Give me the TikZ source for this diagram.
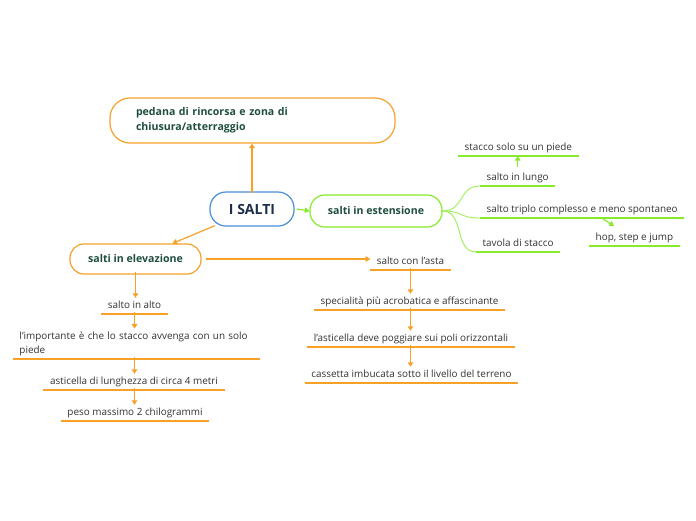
\documentclass[tikz,border=0pt]{standalone}
\usepackage{fontspec}
\setmainfont{Open Sans}
\usetikzlibrary{arrows.meta,calc}
\definecolor{ocol}{HTML}{F7A128}
\definecolor{gcol}{HTML}{86EB2B}
\definecolor{bcol}{HTML}{4A90D9}
\definecolor{dgreen}{HTML}{1F4E3D}
\definecolor{navy}{HTML}{1C2E4A}
\definecolor{tcol}{HTML}{333333}
\tikzset{
  topicbox/.style={draw, fill=white, line width=1.2pt, font=\bfseries\fontsize{10.6}{15}\selectfont, text=dgreen, inner sep=0pt},
  itembase/.style={font=\fontsize{9.9}{14}\selectfont, text=tcol, inner xsep=6.5pt, inner ysep=3pt},
  item/.style={itembase, text height=7.3pt, text depth=2.5pt},
  oline/.style={draw=ocol, line width=1.8pt},
  gline/.style={draw=gcol, line width=1.8pt},
  oarr/.style={draw=ocol, line width=1.2pt, -{Triangle[length=4.5pt,width=5.5pt]}},
  garr/.style={draw=gcol, line width=1.2pt, -{Triangle[length=4.5pt,width=5.5pt]}},
  gbranch/.style={draw=gcol!80, line width=0.9pt},
}
\begin{document}
\begin{tikzpicture}[x=1pt,y=-1pt]
\useasboundingbox[fill=white] (0,0) rectangle (696,520);

% main boxes
\node[topicbox, draw=ocol, rounded corners=20pt, minimum width=285pt, minimum height=45pt,
      text width=233pt, inner xsep=26pt, align=left] (pedana) at (252.5,120.5)
      {pedana di rincorsa e zona di\\chiusura/atterraggio};
\node[topicbox, draw=bcol, rounded corners=16pt, minimum width=84pt, minimum height=34pt,
      text=navy, font=\bfseries\fontsize{14}{16}\selectfont] (root) at (252,209) {I SALTI};
\node[topicbox, draw=gcol, rounded corners=15pt, minimum width=132pt, minimum height=32pt] (est) at (376,211) {salti in estensione};
\node[topicbox, draw=ocol, rounded corners=14pt, minimum width=131pt, minimum height=30pt] (elev) at (135.5,259) {salti in elevazione};

% left column
\node[item, anchor=south] (alto) at (134.5,314) {salto in alto};
\node[itembase, anchor=south, text width=234pt, align=left] (imp) at (136.5,359)
  {l'importante è che lo stacco avvenga con un solo\\piede};
\node[item, anchor=south] (ast) at (134,390) {asticella di lunghezza di circa 4 metri};
\node[item, anchor=south] (peso) at (135,421) {peso massimo 2 chilogrammi};

% middle column
\node[item, anchor=south] (asta) at (410.5,270) {salto con l'asta};
\node[item, anchor=south] (spec) at (409.5,310) {specialità più acrobatica e affascinante};
\node[item, anchor=south] (pogg) at (411,347) {l'asticella deve poggiare sui poli orizzontali};
\node[item, anchor=south] (cass) at (411.5,383) {cassetta imbucata sotto il livello del terreno};

% green items
\node[item, anchor=south west] (stacco) at (458,156) {stacco solo su un piede};
\node[item, anchor=south west] (lungo) at (480,186) {salto in lungo};
\node[item, anchor=south west] (triplo) at (480,218) {salto triplo complesso e meno spontaneo};
\node[item, anchor=south west] (hop) at (589,246) {hop, step e jump};
\node[item, anchor=south west] (tavola) at (476,252) {tavola di stacco};

% underlines
\foreach \n in {alto,imp,ast,peso,asta,spec,pogg,cass}
  \draw[oline] (\n.south west) -- (\n.south east);
\foreach \n in {stacco,lungo,triplo,hop,tavola}
  \draw[gline] (\n.south west) -- (\n.south east);

% connectors
\draw[oarr] ([yshift=-2pt]root.north) -- (root.north |- pedana.south);
\draw[garr] ([xshift=2pt]root.east) -- (est.west);
\draw[oarr] ([xshift=-37pt,yshift=1pt]root.south) -- ([xshift=37pt]elev.north);
\draw[oarr] ([xshift=4pt]elev.east) -- (elev.east -| asta.west);

\draw[oarr] ([yshift=3pt]elev.south) -- (elev.south |- alto.north);
\draw[oarr] ([yshift=2pt]alto.south) -- (alto.south |- imp.north);
\draw[oarr] ([yshift=2pt]imp.south -| alto.south) -- (alto.south |- ast.north);
\draw[oarr] ([yshift=2pt]ast.south -| alto.south) -- (alto.south |- peso.north);

\draw[oarr] ([yshift=2pt]asta.south) -- (asta.south |- spec.north);
\draw[oarr] ([yshift=2pt]asta.south |- spec.south) -- (asta.south |- pogg.north);
\draw[oarr] ([yshift=2pt]asta.south |- pogg.south) -- (asta.south |- cass.north);

\draw[garr] ([yshift=3pt]lungo.north) -- (lungo.north |- stacco.south);
\draw[garr] ($(triplo.south west)+(123,1)$) -- ($(hop.north west)+(25,-4)$);

\draw[gbranch] (est.east) .. controls +(22,0) and +(-22,0) .. (lungo.south west);
\draw[gbranch] (est.east) .. controls +(22,0) and +(-22,0) .. (triplo.south west);
\draw[gbranch] (est.east) .. controls +(22,0) and +(-22,0) .. (tavola.south west);
\end{tikzpicture}
\end{document}
